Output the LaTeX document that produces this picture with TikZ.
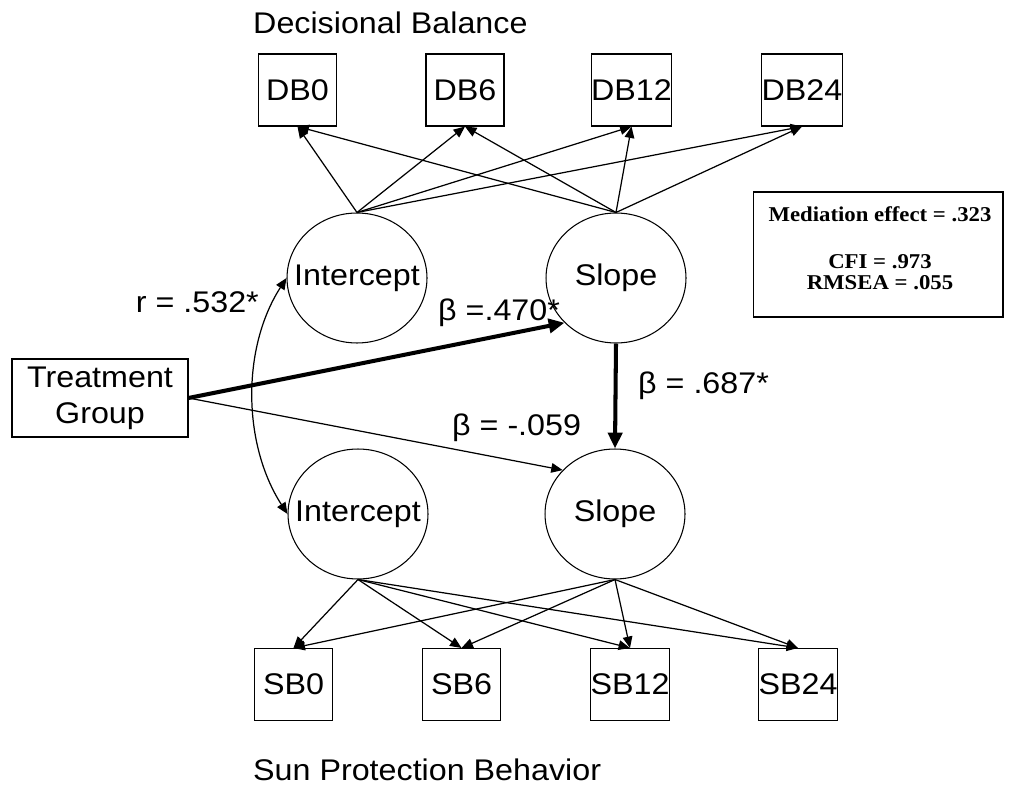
\documentclass[tikz,border=0pt]{standalone}
\usepackage{fontspec}
\setmainfont{Liberation Sans}[FakeStretch=1.08]
\newfontfamily\statsfont{Liberation Serif}[FakeStretch=1.08]
\usetikzlibrary{shapes,arrows.meta}

\begin{document}
\begin{tikzpicture}[x=0.02cm,y=-0.02cm]
			\tikzset{every node/.style={font=\fontsize{17}{20.5}\selectfont}}
			\tikzset{obs/.style={draw,line width=0.6pt,minimum width=1.56cm,minimum height=1.44cm,inner sep=0pt}}
			\tikzset{latent/.style={draw,ellipse,line width=0.6pt,minimum width=2.8cm,minimum height=2.6cm,inner sep=0pt}}
			\tikzset{load/.style={-{Triangle[length=6.5pt,width=5.5pt]},line width=0.7pt}}
			\tikzset{bigpath/.style={-{Triangle[length=9pt,width=8pt]},line width=2.3pt}}
			%\tikzset{every label/.style={inner sep=0pt}}
			\useasboundingbox (0,0) rectangle (1010,787);
			% indicators
			\node[anchor=base west] (dbtitle) at (247,34) {Decisional Balance};
			\node[obs] (db0) at (297.5,90) {DB0};
			\node[obs] (db6) at (465,90) {DB6};
			\node[obs] (db12) at (631.5,90) {DB12};
			\node[obs] (db24) at (802,90) {DB24};
			\node[obs] (sb0) at (293.5,684.5) {SB0};
			\node[obs] (sb6) at (461.5,684.5) {SB6};
			\node[obs] (sb12) at (630,684.5) {SB12};
			\node[obs] (sb24) at (798,684.5) {SB24};
			\node[anchor=base west] (sbtitle) at (247,780) {Sun Protection Behavior};
			% growth factors
			\node[latent,label=center:Intercept] (iT) at (357,278) {};
			\node[latent,label=center:Slope] (sT) at (616,278) {};
			\node[latent,label=center:Intercept] (iB) at (358,514) {};
			\node[latent,label=center:Slope] (sB) at (615,514) {};
			\node[draw,line width=0.6pt,align=center,minimum width=3.52cm,minimum height=1.56cm,inner sep=0pt] (tg) at (100,398) {Treatment\\Group};
			\node[draw,line width=0.6pt,minimum width=5cm,minimum height=2.5cm] (fit) at (878,254.5) {};
			\node[align=center,font=\statsfont\bfseries\fontsize{12}{12}\selectfont] (fittext) at (880,248) {Mediation effect = .323\\[15pt]CFI = .973\\RMSEA = .055};
			% loadings
			\foreach \t in {db0,db6,db12,db24} {
				\draw[load] (iT.north) -- (\t.south);
				\draw[load] (sT.north) -- (\t.south);
			}
			\foreach \t in {sb0,sb6,sb12,sb24} {
				\draw[load] (iB.south) -- (\t.north);
				\draw[load] (sB.south) -- (\t.north);
			}
			% structural paths
			\draw[bigpath] (tg.east) -- (sT.221);
			\draw[load] (tg.east) -- (sB.140);
			\draw[bigpath] (sT.south) -- (sB.north);
			\draw[{Triangle[length=6.5pt,width=5.5pt]}-{Triangle[length=6.5pt,width=5.5pt]},line width=0.7pt] (iT.west) .. controls +(-45,70) and +(-45,-70) .. (iB.west);
			\node[anchor=base east] (rlab) at (265,312) {r = .532*};
			\node[anchor=base west] (alab) at (432,320) {β =.470*};
			\node[anchor=base west] (blab) at (632,393) {β = .687*};
			\node[anchor=base west] (clab) at (446,435) {β = -.059};
\end{tikzpicture}
\end{document}
